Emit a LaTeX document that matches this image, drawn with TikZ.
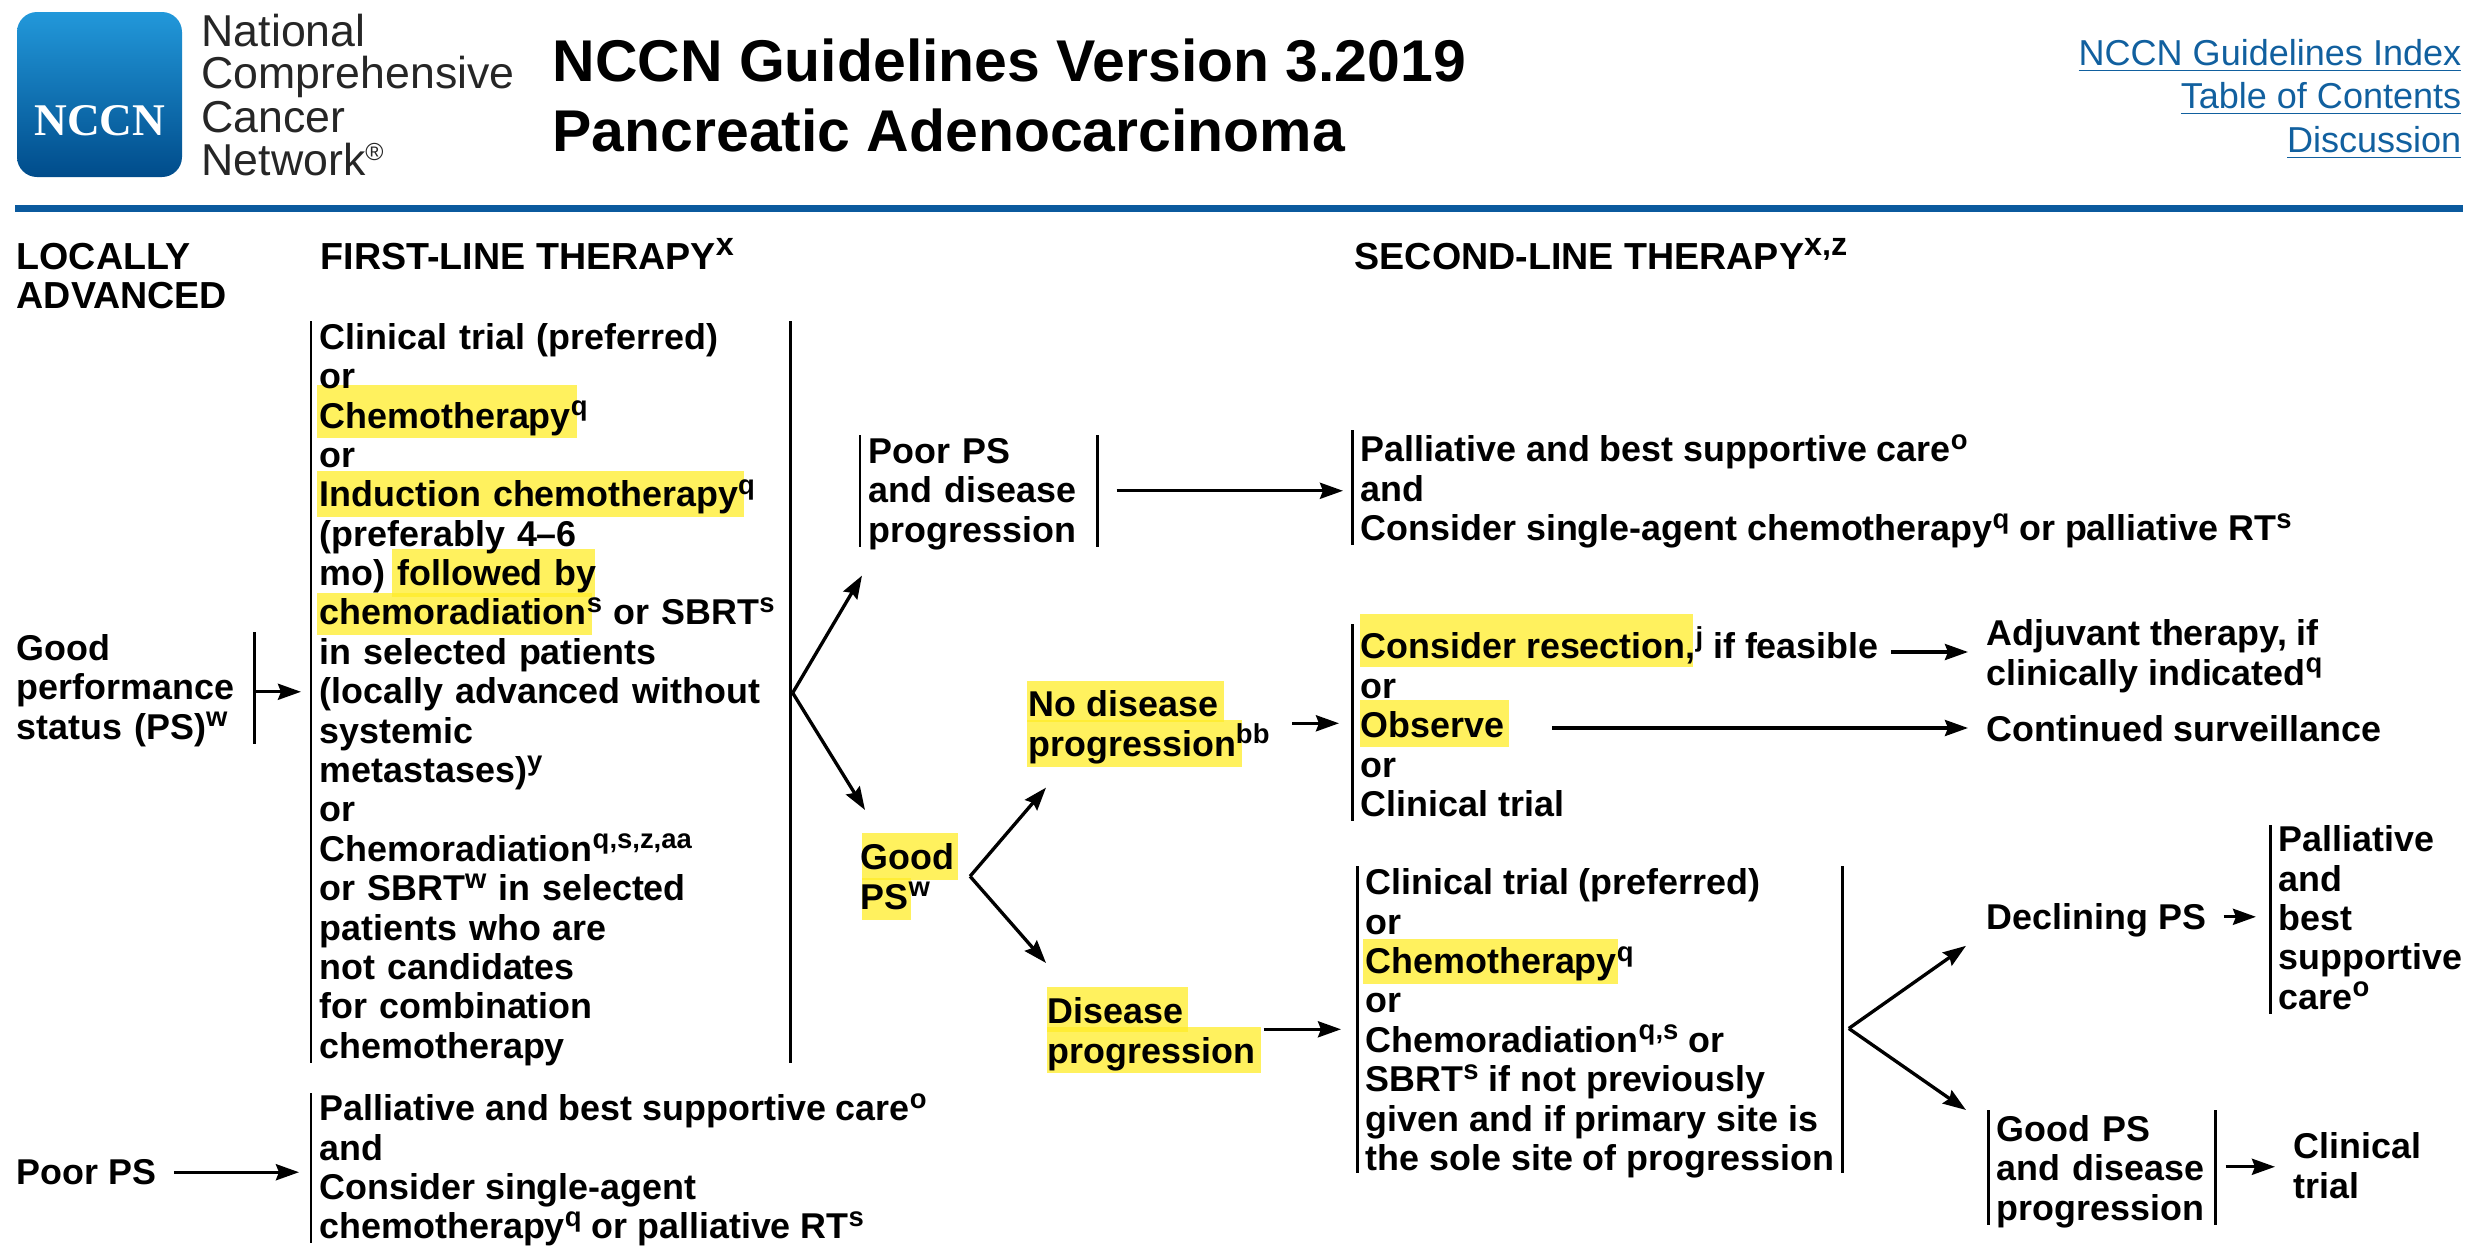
\documentclass[tikz,border=0pt]{standalone}
\usepackage{fontspec}
\setmainfont{Liberation Sans}
\newfontfamily\serifbrand{Liberation Serif}
\usetikzlibrary{arrows.meta}
\definecolor{nccnblue}{HTML}{0B5A9E}
\definecolor{logotop}{HTML}{2298DA}
\definecolor{logobottom}{HTML}{004C8B}
\definecolor{linkblue}{HTML}{11609F}
\definecolor{marker}{HTML}{FFEC28}
\newcommand\bodyfont{\fontsize{10.2}{11.2}\selectfont\bfseries\lineskiplimit=-10pt\hyphenpenalty=10000\relax}
\newcommand\headfont{\fontsize{10.7}{12}\selectfont\bfseries}
\newcommand\titlefont{\fontsize{16.75}{20}\selectfont\bfseries}
\newcommand\up[1]{\raisebox{3.5pt}{\fontsize{7.8}{8}\selectfont #1}}
\newcommand\headup[1]{\raisebox{3.8pt}{\fontsize{9.2}{10}\selectfont #1}}
\tikzset{
	opt/.style={anchor=north west,align=left,inner xsep=.08cm,inner ysep=0pt,font=\bodyfont,execute at begin node=\strut,execute at end node=\strut},
	lab/.style={anchor=base west,inner xsep=.08cm,inner ysep=0pt,font=\bodyfont},
	head/.style={anchor=base west,inner sep=0pt,font=\headfont},
	arr/.style={->,line width=.95pt},
	rule/.style={line width=.85pt,shorten >=.08cm},
	hl/.style={fill=marker,fill opacity=.75,draw=none}
}
\begin{document}
\begin{tikzpicture}[x=.01cm,y=-.01cm,>={Stealth[length=.23cm,width=.16cm,inset=.03cm]},line join=round]
	\useasboundingbox (0,0) rectangle (2480,1254);
	% marker strokes go under the text
	\fill[hl] (317,385) rectangle (577,438);
	\fill[hl] (317,471) rectangle (744,517);
	\fill[hl] (392,549) rectangle (595,597);
	\fill[hl] (317,593) rectangle (592,635);
	\fill[hl] (1027,681) rectangle (1224,722);
	\fill[hl] (1027,720) rectangle (1242,767);
	\fill[hl] (862,833) rectangle (958,880);
	\fill[hl] (862,878) rectangle (911,920);
	\fill[hl] (1047,987) rectangle (1188,1032);
	\fill[hl] (1047,1027) rectangle (1261,1073);
	\fill[hl] (1360,614) rectangle (1693,667);
	\fill[hl] (1360,700) rectangle (1509,747);
	\fill[hl] (1363,939) rectangle (1618,984);
	% header
	\shade[top color=logotop,bottom color=logobottom,rounded corners=.2cm] (17,12) rectangle (182,177);
	\node[white,anchor=base,inner sep=0pt,font=\serifbrand\fontsize{12.9}{14}\selectfont\bfseries] (brand) at (100,135) {NCCN};
	\foreach \logoname/\logoy/\logotext in {a/46/National,b/88/Comprehensive,c/132/Cancer,d/175/Network{\raisebox{4pt}{\fontsize{7}{8}\selectfont ®}}}
		\node[anchor=base west,inner sep=0pt,text=black!85,font=\fontsize{12.7}{14}\selectfont] (logo\logoname) at (201,\logoy) {\logotext};
	\node[anchor=base west,inner sep=0pt,font=\titlefont] (title) at (552,81) {NCCN Guidelines Version 3.2019};
	\node[anchor=base west,inner sep=0pt,font=\titlefont] (subtitle) at (552,151) {Pancreatic Adenocarcinoma};
	\foreach \linkname/\linky/\linktext in {index/65/NCCN Guidelines Index,toc/108/Table of Contents,disc/152/Discussion}
		\node[anchor=base east,inner sep=0pt,text=linkblue,font=\fontsize{10.25}{12}\selectfont] (\linkname) at (2462,\linky) {\underline{\linktext}};
	\fill[nccnblue] (15,205) rectangle (2463,212);
	% column titles
	\node[head] (loc) at (16,269) {LOCALLY};
	\node[head] (adv) at (16,308) {ADVANCED};
	\node[head] (firsthead) at (320,269) {FIRST-LINE THERAPY\headup{x}};
	\node[head] (secondhead) at (1354,269) {SECOND-LINE THERAPY\headup{x,z}};
	% first line column
	\node[opt,text width=2.29cm] (goodps) at (8,632) {Good\\performance\\status (PS)\up{w}};
	\node[opt] (poorps) at (8,1156) {Poor PS};
	\node[opt,text width=4.62cm] (first) at (311,321) {Clinical trial (preferred)\\or\\Chemotherapy\up{q}\\or\\Induction chemotherapy\up{q}\\(preferably 4--6\\mo) followed by\\chemoradiation\up{s} or SBRT\up{s}\\in selected patients\\(locally advanced without\\systemic\\metastases)\up{y}\\or\\Chemoradiation\up{q,s,z,aa}\\or SBRT\up{w} in selected\\patients who are\\not candidates\\for combination\\chemotherapy};
	\node[opt] (bsc) at (311,1093) {Palliative and best supportive care\up{o}\\and\\Consider single-agent\\chemotherapy\up{q} or palliative RT\up{s}};
	% second line column
	\node[opt,text width=2.2cm] (poorprog) at (860,435) {Poor PS\\and disease\\progression};
	\node[opt] (bsctop) at (1352,434) {Palliative and best supportive care\up{o}\\and\\Consider single-agent chemotherapy\up{q} or palliative RT\up{s}};
	\node[opt] (goodpsb) at (852,843) {Good\\PS\up{w}};
	\node[opt] (nodis) at (1020,690) {No disease\\progression\up{bb}};
	\node[opt] (disprog) at (1039,997) {Disease\\progression};
	\node[opt] (resect) at (1352,626) {Consider resection,\up{j} if feasible\\or\\Observe\\or\\Clinical trial};
	\node[opt] (adjuvant) at (1978,619) {Adjuvant therapy, if\\clinically indicated\up{q}};
	\node[lab] (surv) at (1978,741) {Continued surveillance};
	\node[opt,inner xsep=.08cm] (second) at (1357,868) {Clinical trial (preferred)\\or\\Chemotherapy\up{q}\\or\\Chemoradiation\up{q,s} or\\SBRT\up{s} if not previously\\given and if primary site is\\the sole site of progression};
	\node[lab] (decline) at (1978,929) {Declining PS};
	\node[opt] (bscsmall) at (2270,825) {Palliative\\and\\best\\supportive\\care\up{o}};
	\node[opt,text width=2.1cm] (goodprog) at (1988,1113) {Good PS\\and disease\\progression};
	\node[opt] (trial) at (2285,1132) {Clinical\\trial};
	% bars beside the option lists
	\draw[rule] (goodps.north east) -- (goodps.south east);
	\draw[rule] (first.north west) -- (first.south west);
	\draw[rule] (first.north east) -- (first.south east);
	\draw[rule] (bsc.north west) -- (bsc.south west);
	\draw[rule] (poorprog.north west) -- (poorprog.south west);
	\draw[rule] (poorprog.north east) -- (poorprog.south east);
	\draw[rule,shorten <=-.04cm] (bsctop.north west) -- (bsctop.south west);
	\draw[rule,shorten <=-.02cm] (resect.north west) -- (resect.south west);
	\draw[rule,shorten <=-.02cm,shorten >=.1cm] (second.north west) -- (second.south west);
	\draw[rule,shorten <=-.02cm,shorten >=.1cm] (second.north east) -- (second.south east);
	\draw[rule] (bscsmall.north west) -- (bscsmall.south west);
	\draw[rule,shorten <=-.03cm] (goodprog.north west) -- (goodprog.south west);
	\draw[rule,shorten <=-.03cm] (goodprog.north east) -- (goodprog.south east);
	% arrows
	\coordinate (feasible) at (1891,652);
	\coordinate (observed) at (1552,728);
	\coordinate (firstout) at ([xshift=.02cm,yshift=.03cm]first.east);
	\coordinate (goodout) at ([xshift=.07cm,yshift=.06cm]goodpsb.east);
	\coordinate (secondout) at ([xshift=.06cm,yshift=-.03cm]second.east);
	\coordinate (poorout) at ([yshift=.04cm]poorprog.east);
	\coordinate (nodisout) at ([yshift=.06cm]nodis.east);
	\coordinate (disout) at ([yshift=.07cm]disprog.east);
	\coordinate (declineout) at ([yshift=.03cm]decline.east);
	\coordinate (goodprogout) at ([yshift=.06cm]goodprog.east);
	\draw[arr,shorten >=.1cm] (goodps.east) -- (first.west |- goodps.east);
	\draw[arr,shorten <=.09cm,shorten >=.12cm] (poorps.east |- bsc.west) -- (bsc.west);
	\draw[arr] (firstout) -- ([xshift=.02cm,yshift=-.21cm]poorprog.south west);
	\draw[arr] (firstout) -- ([xshift=.13cm,yshift=.33cm]goodpsb.north west);
	\draw[arr,shorten <=.19cm,shorten >=.09cm] (poorout) -- (bsctop.west |- poorout);
	\draw[arr] (goodout) -- ([xshift=.26cm,yshift=-.19cm]nodis.south west);
	\draw[arr] (goodout) -- ([xshift=.07cm,yshift=.34cm]disprog.north west);
	\draw[arr,shorten <=.14cm,shorten >=.13cm] (nodisout) -- (resect.west |- nodisout);
	\draw[arr,shorten >=.1cm] (feasible) -- (adjuvant.west |- feasible);
	\draw[arr,shorten >=.1cm] (observed) -- (surv.west |- observed);
	\draw[arr,shorten >=.16cm] (disout) -- (second.west |- disout);
	\draw[arr] (secondout) -- ([xshift=-.12cm,yshift=-.26cm]decline.west);
	\draw[arr] (secondout) -- ([xshift=-.22cm,yshift=.03cm]goodprog.north west);
	\draw[arr,shorten <=.09cm,shorten >=.14cm] (declineout) -- (bscsmall.west |- declineout);
	\draw[arr,shorten <=.1cm,shorten >=.1cm] (goodprogout) -- (trial.west |- goodprogout);
\end{tikzpicture}
\end{document}
